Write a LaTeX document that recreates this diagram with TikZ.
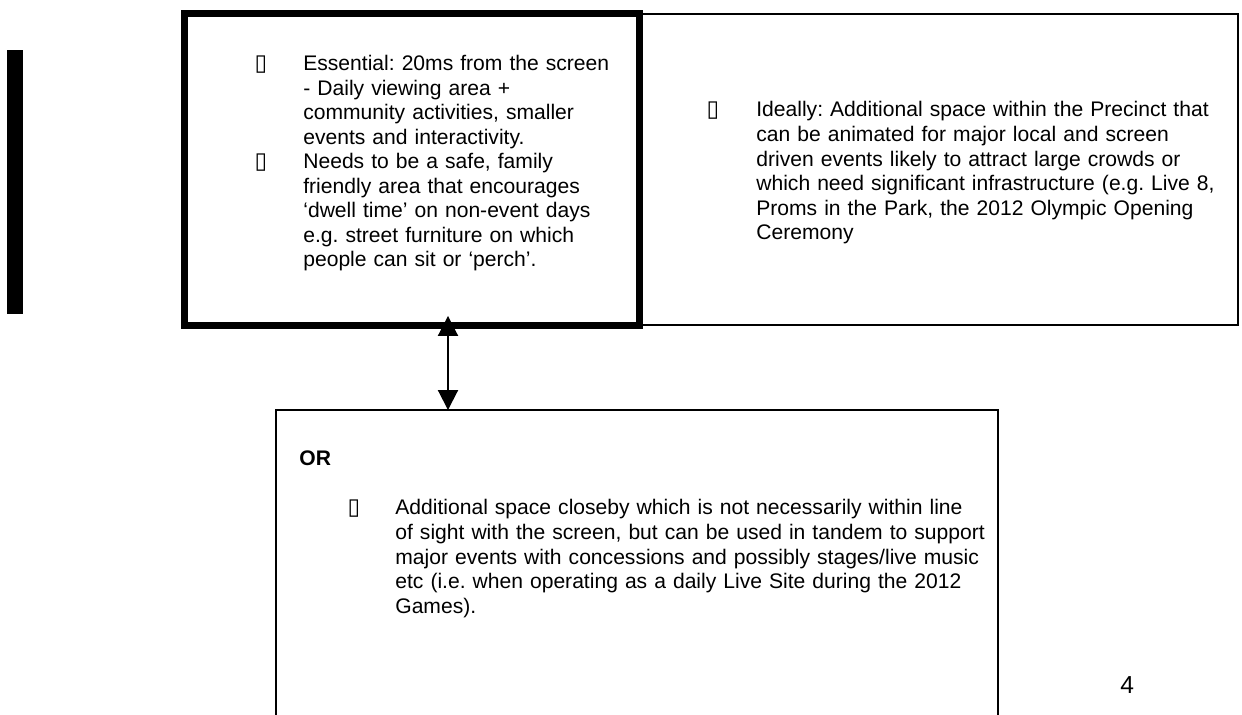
\documentclass[tikz,border=0pt]{standalone}
\usepackage{fontspec}
\setmainfont{Liberation Sans}
\newfontfamily\glyphfont{DejaVu Sans}
\usetikzlibrary{positioning, arrows.meta}
\frenchspacing

\begin{document}
\begin{tikzpicture}[x=0.02cm, y=-0.02cm,
        panel/.style={draw, rectangle, inner sep=0pt, outer sep=0pt, line width=0.04cm},
        heavypanel/.style={panel, line width=0.14cm},
        bodytext/.style={align=left, inner sep=0pt, anchor=base west, text width=#1,
            font=\fontsize{12}{13.95}\selectfont},
        tofu/.style={inner sep=0pt, anchor=base, font=\glyphfont\fontsize{13}{13.95}\selectfont},
        tip/.tip={Triangle[length=0.4cm, width=0.4cm]},
        linkarrow/.style={tip-tip, line width=0.04cm}]
        \useasboundingbox (0,0) rectangle (1242,715);
        \clip (0,0) rectangle (1242,715);

        % margin bar
        \fill (7,50) rectangle (23,314);

        % boxes
        \node[heavypanel, minimum width=9.12cm, minimum height=6.26cm](essential) at (412,169.5) {};
        \node[panel, minimum width=11.96cm, minimum height=6.24cm](ideal)[right = 0pt of essential] {};
        \node[panel, minimum width=14.44cm, minimum height=6.6cm](alternative) at (637,575) {};

        % texts
        \node[tofu](b1) at (261,70.7) {▯};
        \node[bodytext=7cm](t1) at (303,70.7) {Essential: 20ms from the screen\\
            - Daily viewing area +\\ community activities, smaller\\ events and interactivity.};
        \node[tofu](b2) at (261,168.7) {▯};
        \node[bodytext=7cm](t2) at (303,168.7) {Needs to be a safe, family\\
            friendly area that encourages\\ ‘dwell time’ on non-event days\\
            e.g. street furniture on which\\ people can sit or ‘perch’.};

        \node[tofu](b3) at (713,117) {▯};
        \node[bodytext=9.5cm](t3) at (756,117) {Ideally: Additional space within the Precinct that\\
            can be animated for major local and screen\\
            driven events likely to attract large crowds or\\
            which need significant infrastructure (e.g. Live 8,\\
            Proms in the Park, the 2012 Olympic Opening\\ Ceremony};

        \node[bodytext=3cm, font=\fontsize{12}{13.95}\selectfont\bfseries](or) at (299,466) {OR};
        \node[tofu](b4) at (354,515) {▯};
        \node[bodytext=12cm](t4) at (395,515) {Additional space closeby which is not necessarily within line\\
            of sight with the screen, but can be used in tandem to support\\
            major events with concessions and possibly stages/live music\\
            etc (i.e. when operating as a daily Live Site during the 2012\\ Games).};

        \node[bodytext=1cm, font=\fontsize{14}{16}\selectfont](pageno) at (1120,694) {4};

        % link between the two spaces
        \coordinate (link) at (448,0);
        \draw[linkarrow, shorten <=-0.2cm] (essential.south -| link) -- (alternative.north -| link);
\end{tikzpicture}
\end{document}
